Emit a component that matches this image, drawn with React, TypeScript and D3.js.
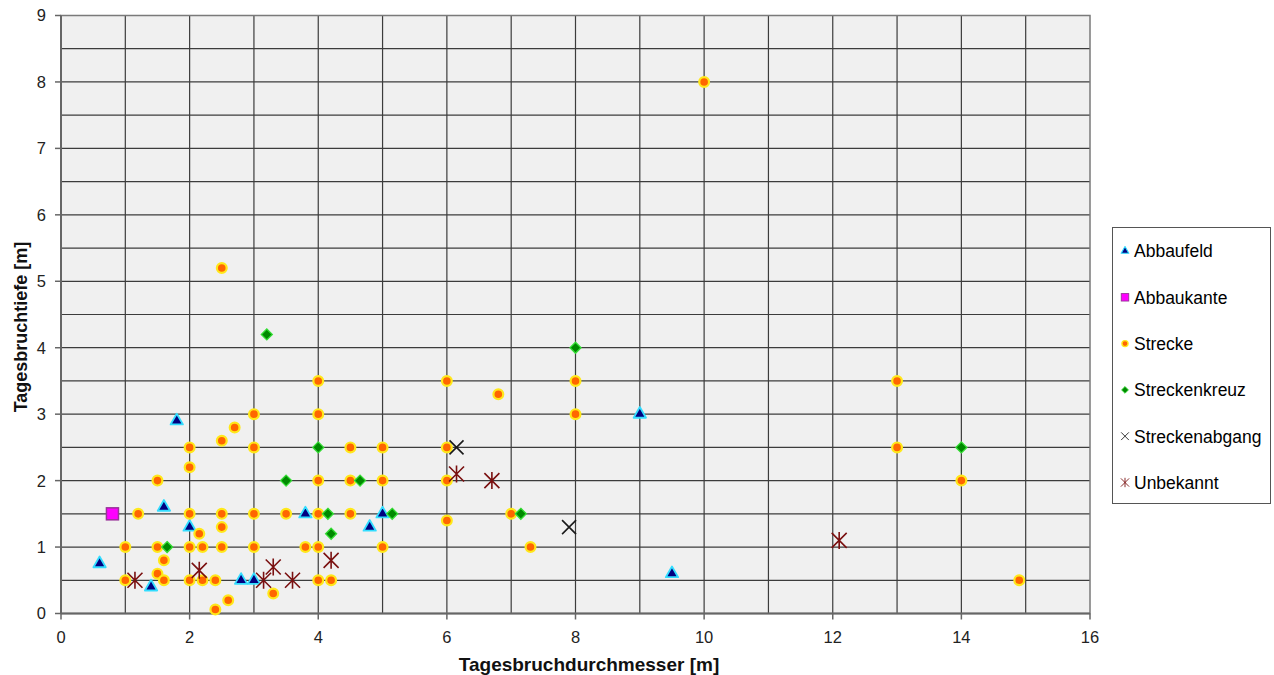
import React from "react";
import * as d3 from "d3";

type P = [number, number];

const abbaufeld: P[] = [
  [0.6, 0.75], [1.4, 0.4], [1.6, 1.6], [1.8, 2.9], [2, 1.3], [2.8, 0.5], [3, 0.5],
  [3.8, 1.5], [4.8, 1.3], [5, 1.5], [9, 3], [9.5, 0.6],
];
const abbaukante: P[] = [[0.8, 1.5]];
const strecke: P[] = [
  [10, 8], [2.5, 5.2], [4, 3.5], [6, 3.5], [8, 3.5], [13, 3.5], [6.8, 3.3], [3, 3], [4, 3], [8, 3],
  [2.7, 2.8], [2.5, 2.6], [2, 2.5], [3, 2.5], [4.5, 2.5], [5, 2.5], [6, 2.5], [13, 2.5], [2, 2.2],
  [1.5, 2], [4, 2], [4.5, 2], [5, 2], [6, 2], [14, 2], [1.2, 1.5], [2, 1.5], [2.5, 1.5], [3, 1.5],
  [3.5, 1.5], [4, 1.5], [4.5, 1.5], [7, 1.5], [6, 1.4], [2.5, 1.3], [2.15, 1.2], [1, 1], [1.5, 1],
  [2, 1], [2.2, 1], [2.5, 1], [3, 1], [3.8, 1], [4, 1], [5, 1], [7.3, 1], [1.6, 0.8], [1.5, 0.6],
  [1, 0.5], [1.6, 0.5], [2, 0.5], [2.2, 0.5], [2.4, 0.5], [4, 0.5], [4.2, 0.5], [14.9, 0.5],
  [3.3, 0.3], [2.6, 0.2], [2.4, 0.06],
];
const streckenkreuz: P[] = [
  [1.65, 1], [3.2, 4.2], [3.5, 2], [4, 2.5], [4.15, 1.5], [4.2, 1.2], [4.65, 2], [5.15, 1.5],
  [7.15, 1.5], [8, 4], [14, 2.5],
];
const streckenabgang: P[] = [[6.15, 2.5], [7.9, 1.3]];
const unbekannt: P[] = [
  [1.15, 0.5], [2.15, 0.65], [3.15, 0.5], [3.3, 0.7], [3.6, 0.5], [4.2, 0.8], [6.15, 2.1],
  [6.7, 2], [12.1, 1.1],
];

const legendLabels = ["Abbaufeld", "Abbaukante", "Strecke", "Streckenkreuz", "Streckenabgang", "Unbekannt"];
const xTicks = [0, 2, 4, 6, 8, 10, 12, 14, 16];
const yTicks = [0, 1, 2, 3, 4, 5, 6, 7, 8, 9];

const W = 1274;
const H = 675;
const left = 61, right = 1090, top = 15.5, bottom = 613.5;

const x = d3.scaleLinear().domain([0, 16]).range([left, right]);
const y = d3.scaleLinear().domain([0, 9]).range([bottom, top]);

const FONT = "'Liberation Sans', Arial, sans-serif";

function Marker({ kind, cx, cy, s = 1 }: { kind: number; cx: number; cy: number; s?: number }) {
  const t = `translate(${cx},${cy}) scale(${s})`;
  switch (kind) {
    case 0:
      return (
        <path transform={t} d={d3.symbol(d3.symbolTriangle, 66)() as string}
          fill="#000080" stroke="#33ddff" strokeWidth={1.8} strokeLinejoin="round" />
      );
    case 1:
      return <rect transform={t} x={-6} y={-6} width={12} height={12} fill="#ff00ff" stroke="#993399" strokeWidth={1.5} />;
    case 2:
      return <circle transform={t} r={4.9} fill="#ff6600" stroke="#ffe81a" strokeWidth={2.2} />;
    case 3:
      return (
        <path transform={t} d="M0,-5.5L5.5,0L0,5.5L-5.5,0Z" fill="#008a00" stroke="#33dd33" strokeWidth={1.3} />
      );
    case 4:
      return (
        <path transform={t} d="M-7,-7L7,7M-7,7L7,-7" stroke="#1a1a1a" strokeWidth={1.6} fill="none" />
      );
    default:
      return (
        <path transform={t} d="M-7.5,-7.5L7.5,7.5M-7.5,7.5L7.5,-7.5M0,-8.5L0,8.5" stroke="#7a1010" strokeWidth={1.6} fill="none" />
      );
  }
}

const series: P[][] = [abbaufeld, abbaukante, strecke, streckenkreuz, streckenabgang, unbekannt];

export default function App() {
  const vGrid = d3.range(1, 16);
  const hGrid = d3.range(1, 18).map((v) => v * 0.5);
  return (
    <svg width={W} height={H} style={{ position: "absolute", left: 0, top: 0, background: "#fff" }}
      fontFamily={FONT}>
      <rect x={0} y={0} width={W} height={H} fill="#fff" />
      <rect x={left} y={top} width={right - left} height={bottom - top} fill="#f0f0f0" />
      {vGrid.map((v) => (
        <line key={"v" + v} x1={x(v)} x2={x(v)} y1={top} y2={bottom} stroke="#3c3c3c" strokeWidth={1.2} />
      ))}
      {hGrid.map((v) => (
        <line key={"h" + v} x1={left} x2={right} y1={y(v)} y2={y(v)} stroke="#3c3c3c" strokeWidth={1.2} />
      ))}
      <rect x={left} y={top} width={right - left} height={bottom - top} fill="none" stroke="#7a7a7a" strokeWidth={1.5} />
      {/* axes */}
      <line x1={left} x2={left} y1={top} y2={bottom} stroke="#666" strokeWidth={2} />
      <line x1={left} x2={right} y1={bottom} y2={bottom} stroke="#666" strokeWidth={2} />
      {yTicks.map((t) => (
        <g key={"yt" + t}>
          <line x1={left - 6} x2={left} y1={y(t)} y2={y(t)} stroke="#666" strokeWidth={1.5} />
          <text x={46} y={y(t)} dy="0.36em" textAnchor="end" fontSize={16.5} fill="#222">{t}</text>
        </g>
      ))}
      {xTicks.map((t) => (
        <g key={"xt" + t}>
          <line x1={x(t)} x2={x(t)} y1={bottom} y2={bottom + 6} stroke="#666" strokeWidth={1.5} />
          <text x={x(t)} y={642.5} textAnchor="middle" fontSize={16.5} fill="#222">{t}</text>
        </g>
      ))}
      <text x={589} y={671} textAnchor="middle" fontSize={19} fontWeight="bold" fill="#111">
        Tagesbruchdurchmesser [m]
      </text>
      <text transform="translate(27,327) rotate(-90)" textAnchor="middle" fontSize={18} fontWeight="bold" fill="#111">
        Tagesbruchtiefe [m]
      </text>
      {/* points */}
      {series.map((pts, k) => (
        <g key={"s" + k}>
          {pts.map((p, i) => (
            <Marker key={i} kind={k} cx={x(p[0])} cy={y(p[1])} />
          ))}
        </g>
      ))}
      {/* legend */}
      <rect x={1112.5} y={227.5} width={158} height={276} fill="#fff" stroke="#555" strokeWidth={1} />
      {legendLabels.map((lab, i) => {
        const cy = 251 + i * 46.3;
        return (
          <g key={lab}>
            <Marker kind={i} cx={1125} cy={cy} s={i === 4 || i === 5 ? 0.55 : 0.62} />
            <text x={1134} y={cy} dy="0.36em" fontSize={17.5} fill="#000">{lab}</text>
          </g>
        );
      })}
    </svg>
  );
}
